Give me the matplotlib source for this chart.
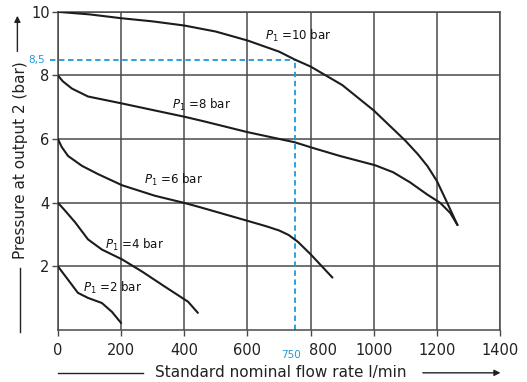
import matplotlib.pyplot as plt
import matplotlib.transforms as mtransforms

#-----DATA-----
flow_10 = [0, 100, 200, 300, 400, 500, 600, 700, 750, 800, 900, 1000, 1100, 1140, 1170, 1200, 1230, 1265]
pres_10 = [10, 9.92, 9.8, 9.7, 9.57, 9.38, 9.1, 8.75, 8.5, 8.28, 7.7, 6.9, 5.95, 5.52, 5.15, 4.68, 4.05, 3.3]

flow_8 = [0, 15, 44, 95, 203, 307, 402, 466, 600, 750, 808, 893, 1004, 1061, 1115, 1169, 1210, 1242, 1265]
pres_8 = [8, 7.82, 7.59, 7.34, 7.12, 6.9, 6.7, 6.55, 6.22, 5.9, 5.72, 5.47, 5.18, 4.96, 4.64, 4.26, 4.0, 3.68, 3.3]

flow_6 = [0, 12, 32, 76, 127, 203, 307, 402, 450, 594, 660, 700, 730, 760, 800, 869]
pres_6 = [6, 5.75, 5.47, 5.16, 4.9, 4.55, 4.22, 3.99, 3.86, 3.45, 3.26, 3.13, 2.99, 2.77, 2.38, 1.65]

flow_4 = [0, 20, 54, 95, 139, 203, 266, 339, 412, 443]
pres_4 = [4, 3.78, 3.39, 2.85, 2.53, 2.22, 1.84, 1.36, 0.89, 0.54]

flow_2 = [0, 32, 63, 95, 139, 171, 200]
pres_2 = [2, 1.58, 1.17, 1.01, 0.85, 0.57, 0.22]

curve_labels = ["$P_1$ =10 bar", "$P_1$ =8 bar", "$P_1$ =6 bar", "$P_1$ =4 bar", "$P_1$ =2 bar"]
label_pos = [(656, 9.24), (361, 7.06), (272, 4.72), (149, 2.69), (79, 1.33)]

x_ticks = [0, 200, 400, 600, 800, 1000, 1200, 1400]
y_ticks = [2, 4, 6, 8, 10]
mark_flow = 750
mark_pres = 8.5
#--------------------------------------------

grid_col = '#4a4a4a'
line_col = '#1c1c1c'
text_col = '#222222'
blue = '#1f9ad8'

fig = plt.figure(figsize=(5.27, 3.82), dpi=100)
ax = fig.add_axes([0.11, 0.136, 0.839, 0.833])

for fx, py in [(flow_10, pres_10), (flow_8, pres_8), (flow_6, pres_6),
               (flow_4, pres_4), (flow_2, pres_2)]:
    ax.plot(fx, py, color=line_col, lw=1.5, solid_capstyle='round',
            solid_joinstyle='round', zorder=3)

for txt, (lx, ly) in zip(curve_labels, label_pos):
    ax.text(lx, ly, txt, fontsize=8.5, color='#111111', va='center', ha='left', zorder=4)

# blue reading lines
ax.plot([-25, mark_flow], [mark_pres, mark_pres], color=blue, lw=1.3, ls=(0, (3, 2)),
        zorder=2, clip_on=False)
ax.plot([mark_flow, mark_flow], [0, mark_pres], color=blue, lw=1.3, ls=(0, (3, 2)), zorder=2)

ax.set_xlim(0, 1400)
ax.set_ylim(0, 10)
ax.set_xticks(x_ticks)
ax.set_yticks(y_ticks)
ax.tick_params(axis='both', direction='out', length=4, width=1, color=grid_col,
               labelsize=10.5, labelcolor=text_col, pad=2)
ax.tick_params(axis='x', pad=5)
ax.grid(True, color=grid_col, lw=1.1)
for s in ax.spines.values():
    s.set_color(grid_col)
    s.set_linewidth(1.1)

# the 800 label sits a little to the right to leave room for the blue 750
shift = mtransforms.ScaledTranslation(12 / 100, 0, fig.dpi_scale_trans)
lbl800 = ax.get_xticklabels()[x_ticks.index(800)]
lbl800.set_transform(lbl800.get_transform() + shift)

# blue tick labels
ax.text(738, -0.62, str(mark_flow), color=blue, fontsize=7.5, ha='center', va='top')
ax.text(-42, mark_pres, "8,5", color=blue, fontsize=7.5, ha='right', va='center')

# axis titles with the leader lines / arrows of the original drawing
fig.text(0.533, 0.024, "Standard nominal flow rate l/min", fontsize=11, ha='center',
         va='center', color=text_col)
fig.add_artist(plt.Line2D([0.11, 0.272], [0.024, 0.024], color=text_col, lw=1))
ax.annotate('', xy=(0.955, 0.024), xytext=(0.797, 0.024), xycoords='figure fraction',
            arrowprops=dict(arrowstyle='-|>', color=text_col, lw=1, mutation_scale=9))

fig.text(0.038, 0.582, "Pressure at output 2 (bar)", fontsize=11, rotation=90,
         ha='center', va='center', color=text_col)
fig.add_artist(plt.Line2D([0.038, 0.038], [0.131, 0.298], color=text_col, lw=1))
ax.annotate('', xy=(0.033, 0.966), xytext=(0.033, 0.858), xycoords='figure fraction',
            arrowprops=dict(arrowstyle='-|>', color=text_col, lw=1, mutation_scale=9))

fig.savefig('out.png', dpi=100, facecolor='white')
